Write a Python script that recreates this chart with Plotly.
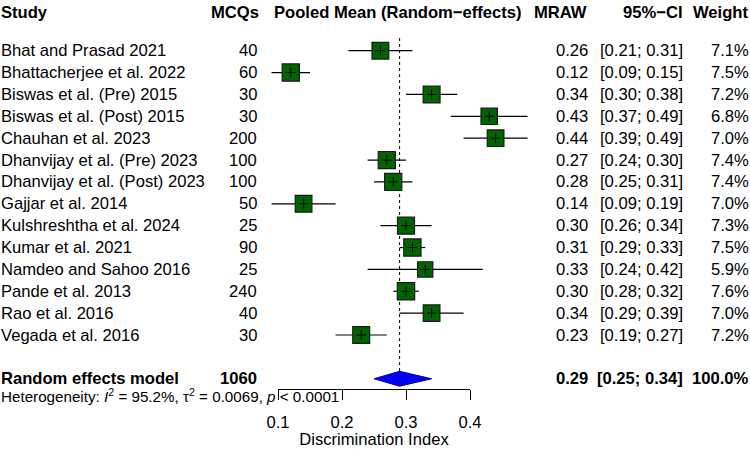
import plotly.graph_objects as go

# ---------------- data ----------------
studies = ["Bhat and Prasad 2021", "Bhattacherjee et al. 2022", "Biswas et al. (Pre) 2015",
           "Biswas et al. (Post) 2015", "Chauhan et al. 2023", "Dhanvijay et al. (Pre) 2023",
           "Dhanvijay et al. (Post) 2023", "Gajjar et al. 2014", "Kulshreshtha et al. 2024",
           "Kumar et al. 2021", "Namdeo and Sahoo 2016", "Pande et al. 2013", "Rao et al. 2016",
           "Vegada et al. 2016"]
mcqs = [40, 60, 30, 30, 200, 100, 100, 50, 25, 90, 25, 240, 40, 30]
mraw = [0.26, 0.12, 0.34, 0.43, 0.44, 0.27, 0.28, 0.14, 0.30, 0.31, 0.33, 0.30, 0.34, 0.23]
lower = [0.21, 0.09, 0.30, 0.37, 0.39, 0.24, 0.25, 0.09, 0.26, 0.29, 0.24, 0.28, 0.29, 0.19]
upper = [0.31, 0.15, 0.38, 0.49, 0.49, 0.30, 0.31, 0.19, 0.34, 0.33, 0.42, 0.32, 0.39, 0.27]
weight = [7.1, 7.5, 7.2, 6.8, 7.0, 7.4, 7.4, 7.0, 7.3, 7.5, 5.9, 7.6, 7.0, 7.2]

pooled_label = "Random effects model"
pooled_n = 1060
pooled_est = 0.29
pooled_lower = 0.25
pooled_upper = 0.34
pooled_weight = 100.0

tick_vals = [0.1, 0.2, 0.3, 0.4]
tick_text = ["0.1", "0.2", "0.3", "0.4"]
het_text = "Heterogeneity: <i>I</i><sup>2</sup> = 95.2%, τ<sup>2</sup> = 0.0069, <i>p</i> &lt; 0.0001"
headers = ["Study", "MCQs", "Pooled Mean (Random\u2212effects)", "MRAW", "95%\u2212CI", "Weight"]
x_title = "Discrimination Index"

# ---------------- layout constants ----------------
W, H = 750, 449
FONT = "Liberation Sans, Arial, Helvetica, sans-serif"
FS = 16.6
PX_AT_TICK0 = 278.0      # pixel of first tick
PX_PER_UNIT = 640.0      # pixels per unit of x
ROW1_PX = 50.7
ROW_PX = 21.87
AXIS_PX = 389.0

def px_to_x(px):
    return tick_vals[0] + (px - PX_AT_TICK0) / PX_PER_UNIT

def px_to_row(py):
    return 1 + (py - ROW1_PX) / ROW_PX

n = len(studies)
rows = list(range(1, n + 1))
pooled_row = n + 2
header_row = px_to_row(12)
het_row = px_to_row(395)

fig = go.Figure()

# CI lines
xs, ys = [], []
for r, lo, hi in zip(rows, lower, upper):
    xs += [lo, hi, None]
    ys += [r, r, None]
fig.add_trace(go.Scatter(x=xs, y=ys, mode="lines", line=dict(color="black", width=1.2),
                         hoverinfo="skip", showlegend=False))

# reference dotted line at pooled estimate
fig.add_trace(go.Scatter(x=[pooled_est, pooled_est], y=[0.42, pooled_row - 0.34], mode="lines",
                         line=dict(color="black", width=1, dash="dot"),
                         hoverinfo="skip", showlegend=False))

# squares
sizes = [6.3 * w ** 0.5 for w in weight]
fig.add_trace(go.Scatter(x=mraw, y=rows, mode="markers",
                         marker=dict(symbol="square", size=sizes, color="#006400", opacity=1,
                                     line=dict(color="#1a1a1a", width=1.2)),
                         hoverinfo="skip", showlegend=False))
# centre cross
fig.add_trace(go.Scatter(x=mraw, y=rows, mode="markers",
                         marker=dict(symbol="cross-thin", size=7, opacity=1,
                                     line=dict(color="black", width=1)),
                         hoverinfo="skip", showlegend=False))

# diamond
dh = 0.34
fig.add_trace(go.Scatter(x=[pooled_lower, pooled_est, pooled_upper, pooled_est, pooled_lower],
                         y=[pooled_row, pooled_row - dh, pooled_row, pooled_row + dh, pooled_row],
                         mode="lines", fill="toself", fillcolor="#0000FF",
                         line=dict(color="#00008B", width=1),
                         hoverinfo="skip", showlegend=False))

# dummy trace for the visible axis subplot
fig.add_trace(go.Scatter(x=[tick_vals[0]], y=[0.5], xaxis="x2", yaxis="y2", mode="markers",
                         marker=dict(opacity=0), hoverinfo="skip", showlegend=False))

ann = []
def txt(px, row, s, anchor, bold=False, size=FS):
    ann.append(dict(x=px / W, xref="paper", y=row, yref="y", text=("<b>%s</b>" % s) if bold else s,
                    showarrow=False, xanchor=anchor, yanchor="middle",
                    font=dict(family=FONT, size=size, color="black")))

# headers
txt(-1, header_row, headers[0], "left", True)
txt(261, header_row, headers[1], "right", True)
txt(398, header_row, headers[2], "center", True)
txt(589, header_row, headers[3], "right", True)
txt(685, header_row, headers[4], "right", True)
txt(750, header_row, headers[5], "right", True)

for r, s, m, e, lo, hi, w in zip(rows, studies, mcqs, mraw, lower, upper, weight):
    txt(-1, r, s, "left")
    txt(259, r, str(m), "right")
    txt(590, r, "%.2f" % e, "right")
    txt(685, r, "[%.2f; %.2f]" % (lo, hi), "right")
    txt(751, r, "%.1f%%" % w, "right")

txt(-1, pooled_row, pooled_label, "left", True)
txt(259, pooled_row, str(pooled_n), "right", True)
txt(590, pooled_row, "%.2f" % pooled_est, "right", True)
txt(685, pooled_row, "[%.2f; %.2f]" % (pooled_lower, pooled_upper), "right", True)
txt(751, pooled_row, "%.1f%%" % pooled_weight, "right", True)

txt(-1, het_row, het_text, "left", False, 15.2)

fig.update_layout(
    template="none",
    width=W, height=H, margin=dict(l=0, r=0, t=0, b=0, pad=0, autoexpand=False),
    paper_bgcolor="white", plot_bgcolor="rgba(0,0,0,0)",
    showlegend=False, annotations=ann,
    font=dict(family=FONT, size=FS, color="black"),
    xaxis=dict(domain=[0, 1], range=[px_to_x(0), px_to_x(W)], visible=False, fixedrange=True,
               automargin=False),
    yaxis=dict(domain=[0, 1], range=[px_to_row(H), px_to_row(0)], visible=False, fixedrange=True,
               automargin=False),
    xaxis2=dict(domain=[PX_AT_TICK0 / W, (PX_AT_TICK0 + PX_PER_UNIT * (tick_vals[-1] - tick_vals[0])) / W],
                range=[tick_vals[0], tick_vals[-1]], anchor="y2", automargin=False,
                tickmode="array", tickvals=tick_vals, ticktext=tick_text,
                ticks="outside", ticklen=10, tickwidth=1, tickcolor="black",
                ticklabelstandoff=8,
                showline=True, linecolor="black", linewidth=1,
                showgrid=False, zeroline=False, fixedrange=True,
                tickfont=dict(family=FONT, size=FS, color="black"),
                title=dict(text=x_title, font=dict(family=FONT, size=FS, color="black"), standoff=5)),
    yaxis2=dict(domain=[(H - AXIS_PX) / H, 1], range=[0, 1], visible=False, fixedrange=True,
                automargin=False),
)

fig.write_html("out.html")
